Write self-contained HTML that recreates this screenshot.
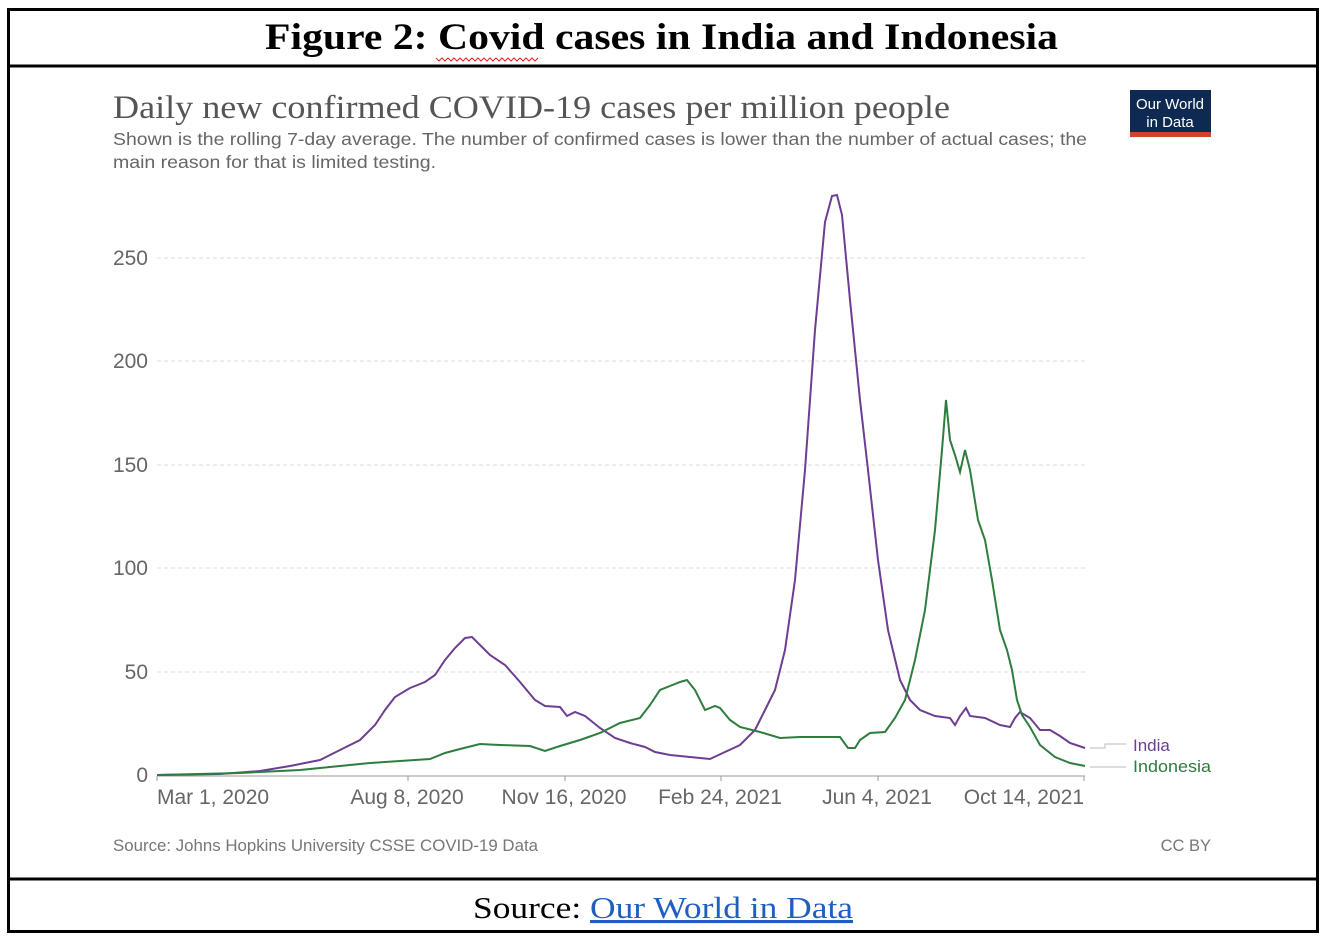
<!DOCTYPE html>
<html><head><meta charset="utf-8"><style>
body{margin:0;width:1328px;height:940px;background:#fff;overflow:hidden}
</style></head><body>
<svg width="1328" height="940" xmlns="http://www.w3.org/2000/svg" style="position:absolute;left:0;top:0">
<rect x="8.5" y="9.5" width="1309" height="922" fill="none" stroke="#000" stroke-width="3"/>
<line x1="8" y1="66" x2="1318" y2="66" stroke="#000" stroke-width="3"/>
<line x1="8" y1="879" x2="1318" y2="879" stroke="#000" stroke-width="3"/>
<text x="265" y="49" textLength="793" lengthAdjust="spacingAndGlyphs" font-family="Liberation Serif, serif" font-weight="bold" font-size="37" fill="#000">Figure 2: Covid cases in India and Indonesia</text>
<path d="M436 58 l3 3 l3 -3 l3 3 l3 -3 l3 3 l3 -3 l3 3 l3 -3 l3 3 l3 -3 l3 3 l3 -3 l3 3 l3 -3 l3 3 l3 -3 l3 3 l3 -3 l3 3 l3 -3 l3 3 l3 -3 l3 3 l3 -3 l3 3 l3 -3 l3 3 l3 -3 l3 3 l3 -3 l3 3 l3 -3 l3 3 l3 -3" fill="none" stroke="#d22" stroke-width="1"/>
<text x="473" y="918" textLength="380" lengthAdjust="spacingAndGlyphs" font-family="Liberation Serif, serif" font-size="31" fill="#000">Source: <tspan fill="#1f5fbf" text-decoration="underline">Our World in Data</tspan></text>
<text x="113" y="118" textLength="837" lengthAdjust="spacingAndGlyphs" font-family="Liberation Serif, serif" font-size="33" fill="#555">Daily new confirmed COVID-19 cases per million people</text>
<text x="113" y="145" textLength="974" lengthAdjust="spacingAndGlyphs" font-family="Liberation Sans, sans-serif" font-size="17.5" fill="#666">Shown is the rolling 7-day average. The number of confirmed cases is lower than the number of actual cases; the</text>
<text x="113" y="168" textLength="323" lengthAdjust="spacingAndGlyphs" font-family="Liberation Sans, sans-serif" font-size="17.5" fill="#666">main reason for that is limited testing.</text>
<rect x="1130" y="90" width="81" height="42" fill="#0e2a52"/>
<rect x="1130" y="132" width="81" height="5" fill="#d3402e"/>
<text x="1170" y="109" text-anchor="middle" font-family="Liberation Sans, sans-serif" font-size="15" fill="#fff">Our World</text>
<text x="1170" y="127" text-anchor="middle" font-family="Liberation Sans, sans-serif" font-size="15" fill="#fff">in Data</text>
<g stroke="#ddd" stroke-dasharray="4,3" stroke-width="1">
<line x1="157" y1="258" x2="1085" y2="258"/><line x1="157" y1="361" x2="1085" y2="361"/>
<line x1="157" y1="465" x2="1085" y2="465"/><line x1="157" y1="568" x2="1085" y2="568"/>
<line x1="157" y1="672" x2="1085" y2="672"/></g>
<line x1="157" y1="776" x2="1085" y2="776" stroke="#999"/>
<g stroke="#999"><line x1="408" y1="776" x2="408" y2="781"/><line x1="565" y1="776" x2="565" y2="781"/><line x1="721" y1="776" x2="721" y2="781"/><line x1="878" y1="776" x2="878" y2="781"/><line x1="1084" y1="776" x2="1084" y2="781"/><line x1="157" y1="776" x2="157" y2="781"/></g>
<g font-family="Liberation Sans, sans-serif" font-size="21" fill="#666">
<text x="148" y="265" text-anchor="end">250</text><text x="148" y="368" text-anchor="end">200</text>
<text x="148" y="472" text-anchor="end">150</text><text x="148" y="575" text-anchor="end">100</text>
<text x="148" y="679" text-anchor="end">50</text><text x="148" y="782" text-anchor="end">0</text>
<text x="157" y="804">Mar 1, 2020</text><text x="407" y="804" text-anchor="middle">Aug 8, 2020</text>
<text x="564" y="804" text-anchor="middle">Nov 16, 2020</text><text x="720" y="804" text-anchor="middle">Feb 24, 2021</text>
<text x="877" y="804" text-anchor="middle">Jun 4, 2021</text><text x="1084" y="804" text-anchor="end">Oct 14, 2021</text>
</g>
<polyline fill="none" stroke="#6d3e91" stroke-width="2" points="157,775 220,774 260,771 290,766 320,760 340,750 360,740 375,725 385,710 395,697 410,688 425,682 435,675 445,660 455,648 465,638 472,637 480,645 490,655 505,665 520,682 535,700 545,706 560,707 567,716 575,712 585,716 600,728 615,738 630,743 645,747 655,752 670,755 690,757 710,759 725,752 740,745 755,730 765,710 775,690 785,650 795,580 805,470 815,330 825,222 832,196 837,195 842,215 850,300 860,400 868,470 878,560 888,630 900,680 910,700 920,710 935,716 950,718 955,725 960,716 966,708 970,716 985,718 1000,725 1010,727 1015,718 1020,712 1030,718 1040,730 1050,730 1060,736 1070,743 1085,748"/>
<polyline fill="none" stroke="#2e7d3e" stroke-width="2" points="157,775 240,773 280,771 300,770 320,768 350,765 370,763 400,761 430,759 445,753 460,749 480,744 500,745 530,746 545,751 560,746 580,740 600,733 620,723 640,718 650,705 660,690 670,686 680,682 687,680 695,690 705,710 715,706 720,708 730,720 740,727 760,732 780,738 800,737 820,737 840,737 848,748 855,748 860,740 870,733 885,732 895,718 905,700 915,660 925,610 935,530 942,450 946,400 950,440 955,455 960,472 965,450 970,470 978,520 985,540 992,580 1000,630 1007,650 1012,670 1017,700 1022,715 1030,727 1040,745 1055,757 1070,763 1085,766"/>
<polyline fill="none" stroke="#bbb" points="1090,748 1105,748 1105,744 1126,744"/>
<polyline fill="none" stroke="#bbb" points="1090,767 1126,767"/>
<text x="1133" y="751" font-family="Liberation Sans, sans-serif" font-size="17" fill="#6d3e91">India</text>
<text x="1133" y="772" textLength="78" lengthAdjust="spacingAndGlyphs" font-family="Liberation Sans, sans-serif" font-size="17" fill="#2e7d3e">Indonesia</text>
<text x="113" y="851" textLength="425" lengthAdjust="spacingAndGlyphs" font-family="Liberation Sans, sans-serif" font-size="16.5" fill="#777">Source: Johns Hopkins University CSSE COVID-19 Data</text>
<text x="1211" y="851" text-anchor="end" font-family="Liberation Sans, sans-serif" font-size="16.5" fill="#777">CC BY</text>
</svg>
</body></html>
